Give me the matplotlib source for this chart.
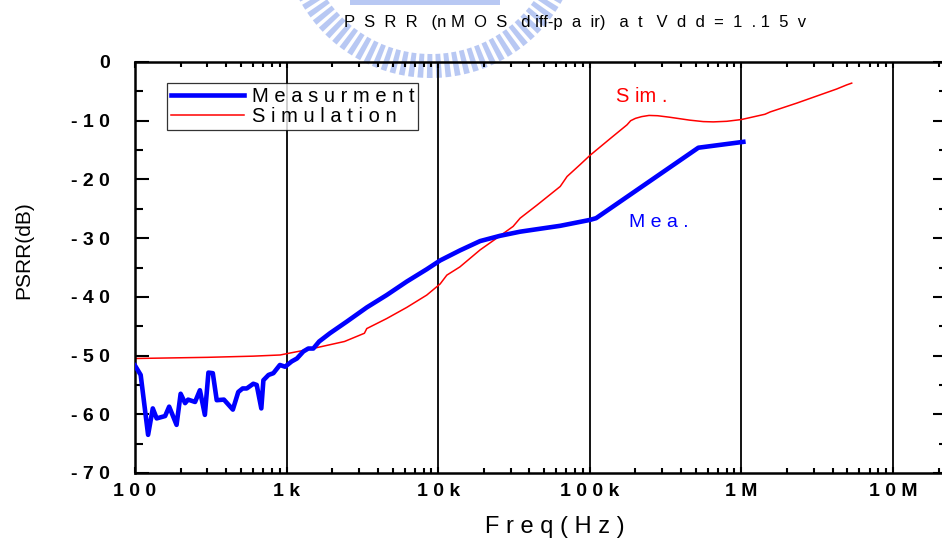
import numpy as np
import matplotlib
matplotlib.use("Agg")
import matplotlib.pyplot as plt
from matplotlib.patches import Wedge, Rectangle
from matplotlib.ticker import FixedLocator, MultipleLocator, LogLocator, NullFormatter

plt.rcParams['font.family'] = ['Liberation Sans', 'DejaVu Sans']

# Measured PSRR (Hz, dB)
meas_freq = [100, 109, 122, 131, 139, 158, 168, 188, 200, 214, 224, 249, 268, 289,
             305, 326, 346, 386, 442, 480, 513, 546, 603, 635, 681, 703, 760, 818,
             903, 977, 1080, 1170, 1290, 1390, 1500, 1640, 1930, 2500, 3380, 4570,
             6200, 8400, 10300, 13900, 18900, 25600, 34700, 47000, 63800, 100000,
             110000, 520000, 1030000]
meas_db = [-51.7, -53.3, -63.5, -59.0, -60.7, -60.3, -58.7, -61.8, -56.5, -58.1, -57.5,
           -57.9, -55.9, -60.1, -52.9, -53.0, -57.6, -57.5, -59.2, -56.2, -55.6, -55.6,
           -54.8, -55.0, -59.0, -54.2, -53.3, -53.0, -51.6, -51.9, -51.0, -50.5, -49.3,
           -48.8, -48.8, -47.6, -46.2, -44.2, -41.8, -39.7, -37.4, -35.3, -33.8, -32.1,
           -30.5, -29.6, -28.9, -28.4, -27.9, -26.9, -26.6, -14.6, -13.6]

# Simulated PSRR (Hz, dB)
sim_freq = [100, 300, 600, 906, 1430, 2410, 3260, 3380, 4570, 6200, 8400, 10300, 11400,
            13900, 18900, 25600, 31200, 34700, 44700, 63800, 70800, 86100, 100300,
            137000, 176000, 186000, 200000, 220000, 246000, 280000, 335000, 455000,
            560000, 653000, 800000, 1000000, 1430000, 1550000, 2320000, 4250000,
            4950000, 5340000]
sim_db = [-50.5, -50.3, -50.1, -49.9, -48.9, -47.6, -46.2, -45.4, -43.7, -41.8, -39.7,
          -37.8, -36.3, -34.9, -32.0, -29.6, -28.0, -26.6, -24.4, -21.2, -19.5, -17.5,
          -15.9, -13.0, -10.7, -10.0, -9.6, -9.3, -9.1, -9.15, -9.4, -9.9, -10.15,
          -10.2, -10.1, -9.8, -8.9, -8.5, -7.0, -4.6, -3.9, -3.6]

x_ticks = [1e2, 1e3, 1e4, 1e5, 1e6, 1e7]
x_labels = ["1 0 0", "1 k", "1 0 k", "1 0 0 k", "1 M", "1 0 M"]
y_ticks = [0, -10, -20, -30, -40, -50, -60, -70]
y_labels = ["0", "- 1 0", "- 2 0", "- 3 0", "- 4 0", "- 5 0", "- 6 0", "- 7 0"]

W, H = 942, 542
fig = plt.figure(figsize=(W / 100, H / 100), dpi=100)

# faint emblem behind the title (pixel geometry converted to inches)
emb = '#8aa4ec'
cx, cy = 431 / 100, (H + 72) / 100
for ang in np.arange(-160, -18, 3.6):
    fig.patches.append(Wedge((cx, cy), 1.50, ang, ang + 2.2, width=0.24,
                             facecolor=emb, edgecolor='none', alpha=0.6,
                             transform=fig.dpi_scale_trans, zorder=-2))
fig.patches.append(Rectangle((350 / 100, (H - 5) / 100), 1.5, 0.05, facecolor=emb,
                             edgecolor='none', alpha=0.6,
                             transform=fig.dpi_scale_trans, zorder=-2))

left, right, top, bottom = 135, 947, 62, 473
ax = fig.add_axes([left / W, 1 - bottom / H, (right - left) / W, (bottom - top) / H])
ax.set_facecolor('none')

ax.set_xscale('log')
ax.set_xlim(100, 10 ** (2 + (right - left) / 151.6))
ax.set_ylim(-70, 0)

for f in x_ticks[1:]:
    ax.axvline(f, color='black', lw=1.3, zorder=1)

ax.plot(meas_freq, meas_db, color='#0000ff', lw=3.3, label='M e a s u r m e n t',
        solid_joinstyle='round', zorder=3)
ax.plot(sim_freq, sim_db, color='#ff0000', lw=1.1, label='S i m u l a t i o n', zorder=2)

ax.xaxis.set_major_locator(FixedLocator(x_ticks))
ax.set_xticklabels(x_labels)
ax.xaxis.set_minor_locator(LogLocator(base=10, subs=range(2, 10), numticks=20))
ax.xaxis.set_minor_formatter(NullFormatter())
ax.yaxis.set_major_locator(FixedLocator(y_ticks))
ax.set_yticklabels(y_labels)
ax.yaxis.set_minor_locator(MultipleLocator(5))

ax.tick_params(which='both', direction='in', top=True, right=True, width=1.5,
               labelsize=14)
ax.tick_params(axis='x', which='major', length=4, pad=7)
ax.tick_params(axis='x', which='minor', length=3.5)
ax.tick_params(axis='y', which='major', length=10, pad=18)
ax.tick_params(axis='y', which='minor', length=5.5)
for lab in ax.get_xticklabels() + ax.get_yticklabels():
    lab.set_fontweight('bold')

for s in ax.spines.values():
    s.set_linewidth(1.8)

leg = ax.legend(loc='upper left', bbox_to_anchor=((167 - left) / (right - left),
                                                  (bottom - 83) / (bottom - top)),
                borderaxespad=0, frameon=True, fancybox=False, fontsize=14.5,
                handlelength=3.6, handletextpad=0.4, labelspacing=0.05,
                borderpad=0.2)
leg.get_frame().set_edgecolor('black')
leg.get_frame().set_linewidth(0.9)
leg.get_frame().set_facecolor('white')

ax.text(221e3, -5.8, "S im .", color='#ff0000', fontsize=14.5, ha='center', va='center')
ax.text(286e3, -27.3, "M e a .", color='#0000ff', fontsize=14, ha='center', va='center')

fig.text(575 / W, 1 - 23 / H,
         "P  S  R  R   (n M  O  S   d iff-p  a  ir)   a  t   V  d  d  =  1  . 1  5  v",
         fontsize=12, ha='center', va='center')
fig.text(555 / W, 1 - 527 / H, "F r e q ( H z )", fontsize=17, ha='center', va='center')
fig.text(24 / W, 1 - 250 / H, "PSRR(dB)", fontsize=15, rotation=90,
         ha='center', va='center')

fig.savefig("out.png", dpi=100, facecolor='white')
